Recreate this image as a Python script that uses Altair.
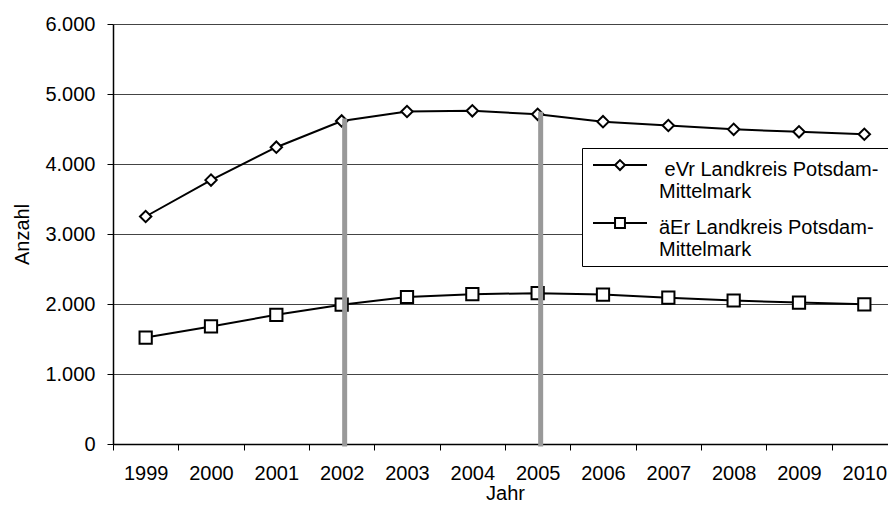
import altair as alt
import pandas as pd

FONT = "Liberation Sans"
NB = "\u00a0"
ZW = "\u200b"

years = ["1999", "2000", "2001", "2002", "2003", "2004",
         "2005", "2006", "2007", "2008", "2009", "2010"]
evr_values = [3250, 3770, 4240, 4615, 4750, 4760, 4710, 4605, 4550, 4495, 4460, 4425]
aer_values = [1520, 1680, 1845, 1990, 2100, 2140, 2155, 2135, 2090, 2050, 2020, 1995]
series_names = [" eVr Landkreis Potsdam-Mittelmark", "äEr Landkreis Potsdam-Mittelmark"]
marked_years = ["2002", "2005"]
y_ticks = [0, 1000, 2000, 3000, 4000, 5000, 6000]

rows = []
for name, vals in zip(series_names, [evr_values, aer_values]):
    for yr, v in zip(years, vals):
        rows.append({"Jahr": yr, "Anzahl": v, "Reihe": name})
df = pd.DataFrame(rows)
marks_df = pd.DataFrame({
    "Jahr": marked_years,
    "Anzahl": [evr_values[years.index(y)] for y in marked_years],
})

# legend symbols: a line with a marker in the middle (unit = 15 px)
s = -0.33   # shift up, to sit on the first text line
h = 0.33    # marker half size
w = 1.8     # half length of the line
leg_diamond = (f"M{-w},{s}H{-h}M{h},{s}H{w}"
               f"M0,{s-h}L{h},{s}L0,{s+h}L{-h},{s}Z")
leg_square = (f"M{-w},{s}H{-h}M{h},{s}H{w}"
              f"M{-h},{s-h}H{h}V{s+h}H{-h}Z")

x_scale = alt.Scale(type="band", domain=years, range=[0, 784],
                    paddingInner=0, paddingOuter=0)
y_scale = alt.Scale(domain=[0, 6000], nice=False, zero=True)

x_enc = alt.X("Jahr:O", scale=x_scale,
              axis=alt.Axis(title="Jahr", labelAngle=0, tickBand="extent",
                            tickSize=6, labelPadding=13, titlePadding=0,
                            domainWidth=1.5, grid=False))
y_enc = alt.Y("Anzahl:Q", scale=y_scale,
              axis=alt.Axis(title="Anzahl", values=y_ticks, grid=True,
                            gridColor="#444444", gridWidth=1, tickSize=6,
                            labelPadding=12, titlePadding=12, domainWidth=1.5,
                            labelExpr="replace(format(datum.value, ','), ',', '.')"))

lines = alt.Chart(df).mark_line(color="black", strokeWidth=2).encode(
    x=x_enc, y=y_enc, detail="Reihe:N")

points = alt.Chart(df).mark_point(
    filled=True, fill="white", stroke="black", strokeWidth=2, opacity=1
).encode(
    x=alt.X("Jahr:O", scale=x_scale),
    y=alt.Y("Anzahl:Q", scale=y_scale),
    shape=alt.Shape("Reihe:N", scale=alt.Scale(domain=series_names,
                                               range=["diamond", "square"]),
                    legend=None),
    size=alt.Size("Reihe:N", scale=alt.Scale(domain=series_names, range=[130, 150]),
                  legend=None),
)

label_expr = (
    "['" + ZW + "' + (substring(datum.label,0,1)==' ' ? '" + NB + "' + substring(datum.label,1,indexof(datum.label,'-')+1)"
    " : substring(datum.label,0,indexof(datum.label,'-')+1)) + '" + NB + ZW + "',"
    " substring(datum.label, indexof(datum.label,'-')+1)]"
)

legend_carrier = alt.Chart(df).transform_filter("datum.Anzahl < 0").mark_point(
    filled=False, color="black", strokeWidth=2, opacity=1
).encode(
    x=alt.X("Jahr:O", scale=x_scale),
    y=alt.Y("Anzahl:Q", scale=y_scale),
    shape=alt.Shape("Reihe:N",
                    scale=alt.Scale(domain=series_names, range=[leg_diamond, leg_square]),
                    legend=alt.Legend(title=None, orient="none", legendX=469, legendY=124,
                                      direction="vertical", strokeColor="black",
                                      fillColor="white", padding=6, rowPadding=10,
                                      symbolSize=900, symbolStrokeWidth=2,
                                      symbolStrokeColor="black", symbolOffset=16,
                                      labelFont=FONT, labelFontSize=20,
                                      labelColor="black", labelLimit=700,
                                      labelOffset=23, labelExpr=label_expr)),
)

rules = alt.Chart(marks_df).mark_rule(
    color="#999999", strokeWidth=5, strokeCap="square", xOffset=3
).encode(
    x=alt.X("Jahr:O", scale=x_scale),
    y=alt.Y("Anzahl:Q", scale=y_scale),
    y2=alt.datum(0),
)

chart = alt.layer(lines, points, legend_carrier, rules).resolve_scale(
    shape="independent", size="independent"
).properties(
    width=775, height=420,
    autosize=alt.AutoSizeParams(type="none"),
    padding={"left": 105, "top": 16, "right": 0, "bottom": 62},
    background="white",
).configure_view(strokeWidth=0).configure_axis(
    labelFont=FONT, titleFont=FONT, labelFontSize=20, titleFontSize=20,
    titleFontWeight="normal", labelColor="black", titleColor="black",
    domainColor="black", tickColor="black",
)

chart.save("out.html", embed_options={"renderer": "svg", "actions": False})
